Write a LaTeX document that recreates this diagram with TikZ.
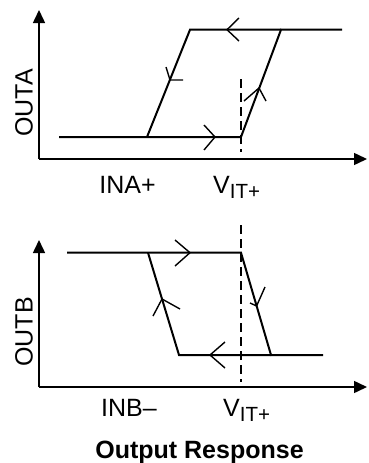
\documentclass[tikz,border=0pt]{standalone}
\usepackage{fontspec}
\setmainfont{Liberation Sans}
\usetikzlibrary{arrows.meta}
\begin{document}
\begin{tikzpicture}[x=1pt,y=-1pt,
  axis/.style={line width=1.5pt,-{Triangle[length=13pt,width=12pt]}},
  curve/.style={line width=2pt,line join=miter},
  chev/.style={line width=1.4pt},
  vdash/.style={line width=1.4pt,dash pattern=on 9pt off 5pt},
  lbl/.style={font=\fontsize{25}{29}\selectfont,inner sep=0pt},
]
\newcommand{\vitp}{V\raisebox{-5pt}{\fontsize{20.5}{22}\selectfont IT+}}
\useasboundingbox (0,0) rectangle (368,463);
% ---------- top plot ----------
\coordinate (ao) at (39,159);
\coordinate (ay) at (39,10);
\coordinate (ax) at (367,159);
\draw[axis] (ao) -- (ay);
\draw[axis] (ao) -- (ax);
\coordinate (a1) at (59,137);
\coordinate (a2) at (147,137);
\coordinate (a3) at (241,137);
\coordinate (a4) at (190,29.7);
\coordinate (a5) at (281,29.7);
\coordinate (a6) at (342,29.7);
\draw[curve] (a1) -- (a3) -- (a5) -- (a6);
\draw[curve] (a2) -- (a4) -- (a5);
\draw[vdash] (241,79) -- (241,152);
\draw[chev] (239,18) -- (227,29.7) -- (239,41);
\draw[chev] (204,125) -- (215,137) -- (204,150);
\draw[chev] (183,80) -- (170,80) -- (166,67);
\draw[chev] (244,101) -- (259,88) -- (266,101);
\node[lbl,rotate=90] (la) at (24,103) {OUTA};
\node[lbl,anchor=base] (ina) at (127.5,193) {INA+};
\node[lbl,anchor=base west] (va) at (213,193) {\vitp};
% ---------- bottom plot ----------
\coordinate (bo) at (39,387);
\coordinate (by) at (39,240);
\coordinate (bx) at (367,387);
\draw[axis] (bo) -- (by);
\draw[axis] (bo) -- (bx);
\coordinate (b1) at (67,252.7);
\coordinate (b2) at (148,252.7);
\coordinate (b3) at (241,252.7);
\coordinate (b4) at (179,355);
\coordinate (b5) at (271,355);
\coordinate (b6) at (323,355);
\draw[curve] (b1) -- (b3) -- (b5) -- (b6);
\draw[curve] (b2) -- (b4) -- (b5);
\draw[vdash] (241,225) -- (241,382);
\draw[chev] (175,240) -- (190,252.7) -- (175,266);
\draw[chev] (225,342) -- (210,355) -- (225,368);
\draw[chev] (153,316) -- (162,299) -- (180,309);
\draw[chev] (265,287) -- (256.6,306) -- (250,303);
\node[lbl,rotate=90] (lb) at (24,332) {OUTB};
\node[lbl,anchor=base] (inb) at (129,416) {INB–};
\node[lbl,anchor=base west] (vb) at (223,416) {\vitp};
\node[lbl,anchor=base,font=\fontsize{25}{29}\selectfont\bfseries] (title) at (199.5,458) {Output Response};
\end{tikzpicture}
\end{document}
